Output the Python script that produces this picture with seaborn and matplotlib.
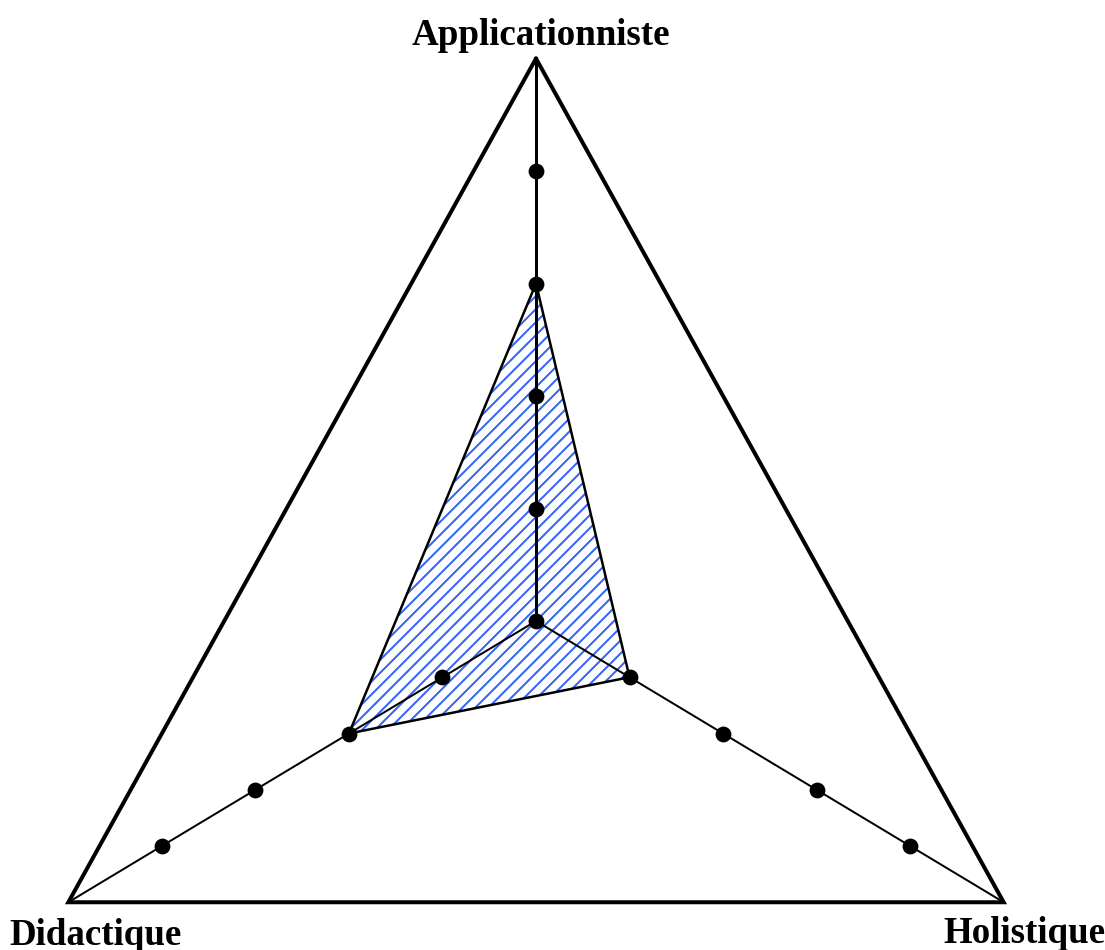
import numpy as np
import pandas as pd
import matplotlib
matplotlib.use("Agg")
import matplotlib.pyplot as plt
from matplotlib.collections import LineCollection
import seaborn as sns

# Daten
categories = ["Applicationniste", "Didactique", "Holistique"]
angles_deg = [90, 210, 330]
scores = [3, 2, 1]
tick_values = [1, 2, 3, 4]
max_value = 5

sns.set_style("white")
plt.rcParams["font.family"] = ["Liberation Serif", "DejaVu Serif"]

angles = np.deg2rad(angles_deg)

# Pixel pro Einheit (x / y)
sx, sy = 108, 112.5


def to_xy(r, a):
    return r * np.cos(a), r * np.sin(a)


# Punkte auf den Achsen (Zentrum + Teilstriche)
rows = [{"axis": "centre", "value": 0, "x": 0.0, "y": 0.0}]
for cat, a in zip(categories, angles):
    for v in tick_values:
        x, y = to_xy(v, a)
        rows.append({"axis": cat, "value": v, "x": x, "y": y})
ticks = pd.DataFrame(rows)

# dpi 72 -> 1 pt = 1 px
fig = plt.figure(figsize=(1105 / 72, 950 / 72), dpi=72)
ax = fig.add_axes([0, 0, 1, 1])

# Polygon der Werte (schraffiert, eigene Schraffur ~13 px Abstand)
px, py = to_xy(np.array(scores), angles)
poly = ax.fill(px, py, facecolor="white", edgecolor="none", zorder=1)[0]
segs = []
for c in np.arange(-1300, 1300, 13):
    X = np.array([-700, 700])
    segs.append(np.column_stack([X / sx, (X - c) / sy]))
hatch = LineCollection(segs, colors="#3366f5", linewidths=2, zorder=1.5)
ax.add_collection(hatch)
hatch.set_clip_path(poly)
ax.plot(np.append(px, px[0]), np.append(py, py[0]), color="black", linewidth=2.5, zorder=3)

# Achsen
for i, a in enumerate(angles):
    vx, vy = to_xy(max_value, a)
    ax.plot([0, vx], [0, vy], color="black", linewidth=3 if i == 0 else 2, zorder=2)

# Aeusseres Dreieck
ox, oy = to_xy(max_value, angles)
ax.plot(np.append(ox, ox[0]), np.append(oy, oy[0]), color="black", linewidth=4,
        solid_joinstyle="miter", zorder=4)

sns.scatterplot(data=ticks, x="x", y="y", color="black", s=250, linewidth=0, ax=ax, zorder=5)

# Beschriftungen
ax.text(541 / 1105, 1 - 45 / 950, categories[0], transform=ax.transAxes, ha="center",
        va="baseline", fontsize=37, fontweight="bold", color="black")
ax.text(96 / 1105, 1 - 945 / 950, categories[1], transform=ax.transAxes, ha="center",
        va="baseline", fontsize=37, fontweight="bold", color="black")
ax.text(1024 / 1105, 1 - 943 / 950, categories[2], transform=ax.transAxes, ha="center",
        va="baseline", fontsize=37, fontweight="bold", color="black")

ax.set_xlim(-536 / sx, (1105 - 536) / sx)
ax.set_ylim(-(950 - 621) / sy, 621 / sy)
ax.axis("off")
ax.set_xlabel("")
ax.set_ylabel("")

plt.savefig("out.png", dpi=72)
plt.close("all")
